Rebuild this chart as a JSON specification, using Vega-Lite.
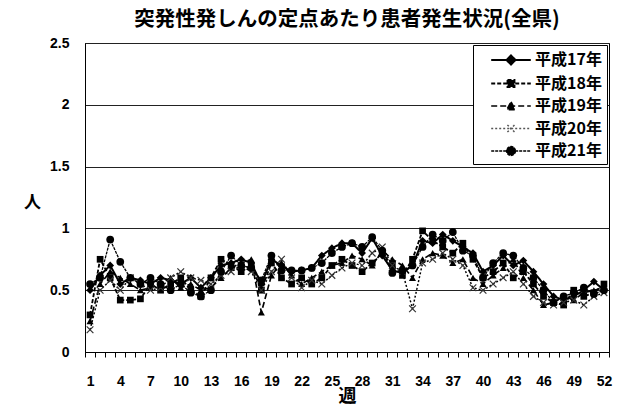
{
  "$schema": "https://vega.github.io/schema/vega-lite/v6.json",
  "width": 524,
  "height": 309,
  "autosize": {"type": "none"},
  "padding": {"left": 85, "top": 43, "right": 8, "bottom": 55},
  "background": "white",
  "title": {"text": "突発性発しんの定点あたり患者発生状況(全県)", "font": "Noto Sans CJK JP", "fontSize": 20.5, "fontWeight": "bold", "color": "black", "anchor": "middle", "offset": 6},
  "config": {
    "view": {"stroke": "black", "strokeWidth": 1},
    "axis": {"labelFont": "Liberation Sans", "labelFontWeight": "bold", "labelFontSize": 14, "labelColor": "black", "titleFont": "Noto Sans CJK JP", "titleFontWeight": "bold", "titleColor": "black", "domainColor": "black", "tickColor": "black"}
  },
  "data": {"values": [
    {"w":1,"s":"平成17年","v":0.5},{"w":2,"s":"平成17年","v":0.62},{"w":3,"s":"平成17年","v":0.7},{"w":4,"s":"平成17年","v":0.55},{"w":5,"s":"平成17年","v":0.6},{"w":6,"s":"平成17年","v":0.58},{"w":7,"s":"平成17年","v":0.55},{"w":8,"s":"平成17年","v":0.6},{"w":9,"s":"平成17年","v":0.58},{"w":10,"s":"平成17年","v":0.55},{"w":11,"s":"平成17年","v":0.6},{"w":12,"s":"平成17年","v":0.52},{"w":13,"s":"平成17年","v":0.6},{"w":14,"s":"平成17年","v":0.7},{"w":15,"s":"平成17年","v":0.72},{"w":16,"s":"平成17年","v":0.75},{"w":17,"s":"平成17年","v":0.72},{"w":18,"s":"平成17年","v":0.55},{"w":19,"s":"平成17年","v":0.75},{"w":20,"s":"平成17年","v":0.7},{"w":21,"s":"平成17年","v":0.65},{"w":22,"s":"平成17年","v":0.66},{"w":23,"s":"平成17年","v":0.68},{"w":24,"s":"平成17年","v":0.78},{"w":25,"s":"平成17年","v":0.84},{"w":26,"s":"平成17年","v":0.88},{"w":27,"s":"平成17年","v":0.88},{"w":28,"s":"平成17年","v":0.8},{"w":29,"s":"平成17年","v":0.92},{"w":30,"s":"平成17年","v":0.78},{"w":31,"s":"平成17年","v":0.66},{"w":32,"s":"平成17年","v":0.64},{"w":33,"s":"平成17年","v":0.7},{"w":34,"s":"平成17年","v":0.9},{"w":35,"s":"平成17年","v":0.88},{"w":36,"s":"平成17年","v":0.95},{"w":37,"s":"平成17年","v":0.9},{"w":38,"s":"平成17年","v":0.85},{"w":39,"s":"平成17年","v":0.8},{"w":40,"s":"平成17年","v":0.65},{"w":41,"s":"平成17年","v":0.7},{"w":42,"s":"平成17年","v":0.78},{"w":43,"s":"平成17年","v":0.7},{"w":44,"s":"平成17年","v":0.74},{"w":45,"s":"平成17年","v":0.65},{"w":46,"s":"平成17年","v":0.55},{"w":47,"s":"平成17年","v":0.45},{"w":48,"s":"平成17年","v":0.42},{"w":49,"s":"平成17年","v":0.45},{"w":50,"s":"平成17年","v":0.5},{"w":51,"s":"平成17年","v":0.57},{"w":52,"s":"平成17年","v":0.5},
    {"w":1,"s":"平成18年","v":0.3},{"w":2,"s":"平成18年","v":0.75},{"w":3,"s":"平成18年","v":0.6},{"w":4,"s":"平成18年","v":0.42},{"w":5,"s":"平成18年","v":0.42},{"w":6,"s":"平成18年","v":0.43},{"w":7,"s":"平成18年","v":0.55},{"w":8,"s":"平成18年","v":0.5},{"w":9,"s":"平成18年","v":0.55},{"w":10,"s":"平成18年","v":0.6},{"w":11,"s":"平成18年","v":0.5},{"w":12,"s":"平成18年","v":0.45},{"w":13,"s":"平成18年","v":0.6},{"w":14,"s":"平成18年","v":0.75},{"w":15,"s":"平成18年","v":0.7},{"w":16,"s":"平成18年","v":0.65},{"w":17,"s":"平成18年","v":0.7},{"w":18,"s":"平成18年","v":0.5},{"w":19,"s":"平成18年","v":0.72},{"w":20,"s":"平成18年","v":0.6},{"w":21,"s":"平成18年","v":0.55},{"w":22,"s":"平成18年","v":0.6},{"w":23,"s":"平成18年","v":0.55},{"w":24,"s":"平成18年","v":0.6},{"w":25,"s":"平成18年","v":0.7},{"w":26,"s":"平成18年","v":0.75},{"w":27,"s":"平成18年","v":0.7},{"w":28,"s":"平成18年","v":0.65},{"w":29,"s":"平成18年","v":0.72},{"w":30,"s":"平成18年","v":0.8},{"w":31,"s":"平成18年","v":0.7},{"w":32,"s":"平成18年","v":0.62},{"w":33,"s":"平成18年","v":0.75},{"w":34,"s":"平成18年","v":0.98},{"w":35,"s":"平成18年","v":0.9},{"w":36,"s":"平成18年","v":0.85},{"w":37,"s":"平成18年","v":0.8},{"w":38,"s":"平成18年","v":0.88},{"w":39,"s":"平成18年","v":0.75},{"w":40,"s":"平成18年","v":0.6},{"w":41,"s":"平成18年","v":0.65},{"w":42,"s":"平成18年","v":0.72},{"w":43,"s":"平成18年","v":0.6},{"w":44,"s":"平成18年","v":0.65},{"w":45,"s":"平成18年","v":0.55},{"w":46,"s":"平成18年","v":0.45},{"w":47,"s":"平成18年","v":0.4},{"w":48,"s":"平成18年","v":0.38},{"w":49,"s":"平成18年","v":0.5},{"w":50,"s":"平成18年","v":0.45},{"w":51,"s":"平成18年","v":0.48},{"w":52,"s":"平成18年","v":0.55},
    {"w":1,"s":"平成19年","v":0.25},{"w":2,"s":"平成19年","v":0.55},{"w":3,"s":"平成19年","v":0.65},{"w":4,"s":"平成19年","v":0.6},{"w":5,"s":"平成19年","v":0.55},{"w":6,"s":"平成19年","v":0.5},{"w":7,"s":"平成19年","v":0.52},{"w":8,"s":"平成19年","v":0.55},{"w":9,"s":"平成19年","v":0.6},{"w":10,"s":"平成19年","v":0.52},{"w":11,"s":"平成19年","v":0.55},{"w":12,"s":"平成19年","v":0.5},{"w":13,"s":"平成19年","v":0.52},{"w":14,"s":"平成19年","v":0.6},{"w":15,"s":"平成19年","v":0.68},{"w":16,"s":"平成19年","v":0.72},{"w":17,"s":"平成19年","v":0.75},{"w":18,"s":"平成19年","v":0.32},{"w":19,"s":"平成19年","v":0.62},{"w":20,"s":"平成19年","v":0.72},{"w":21,"s":"平成19年","v":0.62},{"w":22,"s":"平成19年","v":0.55},{"w":23,"s":"平成19年","v":0.6},{"w":24,"s":"平成19年","v":0.65},{"w":25,"s":"平成19年","v":0.7},{"w":26,"s":"平成19年","v":0.72},{"w":27,"s":"平成19年","v":0.78},{"w":28,"s":"平成19年","v":0.75},{"w":29,"s":"平成19年","v":0.7},{"w":30,"s":"平成19年","v":0.82},{"w":31,"s":"平成19年","v":0.75},{"w":32,"s":"平成19年","v":0.7},{"w":33,"s":"平成19年","v":0.6},{"w":34,"s":"平成19年","v":0.75},{"w":35,"s":"平成19年","v":0.8},{"w":36,"s":"平成19年","v":0.78},{"w":37,"s":"平成19年","v":0.72},{"w":38,"s":"平成19年","v":0.75},{"w":39,"s":"平成19年","v":0.6},{"w":40,"s":"平成19年","v":0.55},{"w":41,"s":"平成19年","v":0.62},{"w":42,"s":"平成19年","v":0.68},{"w":43,"s":"平成19年","v":0.75},{"w":44,"s":"平成19年","v":0.6},{"w":45,"s":"平成19年","v":0.5},{"w":46,"s":"平成19年","v":0.38},{"w":47,"s":"平成19年","v":0.4},{"w":48,"s":"平成19年","v":0.45},{"w":49,"s":"平成19年","v":0.42},{"w":50,"s":"平成19年","v":0.48},{"w":51,"s":"平成19年","v":0.5},{"w":52,"s":"平成19年","v":0.52},
    {"w":1,"s":"平成20年","v":0.18},{"w":2,"s":"平成20年","v":0.5},{"w":3,"s":"平成20年","v":0.58},{"w":4,"s":"平成20年","v":0.5},{"w":5,"s":"平成20年","v":0.6},{"w":6,"s":"平成20年","v":0.55},{"w":7,"s":"平成20年","v":0.5},{"w":8,"s":"平成20年","v":0.52},{"w":9,"s":"平成20年","v":0.6},{"w":10,"s":"平成20年","v":0.65},{"w":11,"s":"平成20年","v":0.6},{"w":12,"s":"平成20年","v":0.58},{"w":13,"s":"平成20年","v":0.55},{"w":14,"s":"平成20年","v":0.62},{"w":15,"s":"平成20年","v":0.65},{"w":16,"s":"平成20年","v":0.7},{"w":17,"s":"平成20年","v":0.65},{"w":18,"s":"平成20年","v":0.5},{"w":19,"s":"平成20年","v":0.65},{"w":20,"s":"平成20年","v":0.75},{"w":21,"s":"平成20年","v":0.6},{"w":22,"s":"平成20年","v":0.52},{"w":23,"s":"平成20年","v":0.58},{"w":24,"s":"平成20年","v":0.55},{"w":25,"s":"平成20年","v":0.62},{"w":26,"s":"平成20年","v":0.68},{"w":27,"s":"平成20年","v":0.72},{"w":28,"s":"平成20年","v":0.7},{"w":29,"s":"平成20年","v":0.8},{"w":30,"s":"平成20年","v":0.85},{"w":31,"s":"平成20年","v":0.7},{"w":32,"s":"平成20年","v":0.65},{"w":33,"s":"平成20年","v":0.35},{"w":34,"s":"平成20年","v":0.72},{"w":35,"s":"平成20年","v":0.75},{"w":36,"s":"平成20年","v":0.8},{"w":37,"s":"平成20年","v":0.75},{"w":38,"s":"平成20年","v":0.7},{"w":39,"s":"平成20年","v":0.52},{"w":40,"s":"平成20年","v":0.5},{"w":41,"s":"平成20年","v":0.55},{"w":42,"s":"平成20年","v":0.6},{"w":43,"s":"平成20年","v":0.65},{"w":44,"s":"平成20年","v":0.55},{"w":45,"s":"平成20年","v":0.45},{"w":46,"s":"平成20年","v":0.4},{"w":47,"s":"平成20年","v":0.38},{"w":48,"s":"平成20年","v":0.4},{"w":49,"s":"平成20年","v":0.42},{"w":50,"s":"平成20年","v":0.38},{"w":51,"s":"平成20年","v":0.45},{"w":52,"s":"平成20年","v":0.48},
    {"w":1,"s":"平成21年","v":0.55},{"w":2,"s":"平成21年","v":0.6},{"w":3,"s":"平成21年","v":0.91},{"w":4,"s":"平成21年","v":0.73},{"w":5,"s":"平成21年","v":0.6},{"w":6,"s":"平成21年","v":0.55},{"w":7,"s":"平成21年","v":0.6},{"w":8,"s":"平成21年","v":0.55},{"w":9,"s":"平成21年","v":0.5},{"w":10,"s":"平成21年","v":0.55},{"w":11,"s":"平成21年","v":0.48},{"w":12,"s":"平成21年","v":0.45},{"w":13,"s":"平成21年","v":0.5},{"w":14,"s":"平成21年","v":0.65},{"w":15,"s":"平成21年","v":0.78},{"w":16,"s":"平成21年","v":0.7},{"w":17,"s":"平成21年","v":0.68},{"w":18,"s":"平成21年","v":0.58},{"w":19,"s":"平成21年","v":0.78},{"w":20,"s":"平成21年","v":0.66},{"w":21,"s":"平成21年","v":0.66},{"w":22,"s":"平成21年","v":0.66},{"w":23,"s":"平成21年","v":0.68},{"w":24,"s":"平成21年","v":0.72},{"w":25,"s":"平成21年","v":0.8},{"w":26,"s":"平成21年","v":0.85},{"w":27,"s":"平成21年","v":0.88},{"w":28,"s":"平成21年","v":0.85},{"w":29,"s":"平成21年","v":0.93},{"w":30,"s":"平成21年","v":0.82},{"w":31,"s":"平成21年","v":0.64},{"w":32,"s":"平成21年","v":0.66},{"w":33,"s":"平成21年","v":0.7},{"w":34,"s":"平成21年","v":0.85},{"w":35,"s":"平成21年","v":0.95},{"w":36,"s":"平成21年","v":0.9},{"w":37,"s":"平成21年","v":0.97},{"w":38,"s":"平成21年","v":0.82},{"w":39,"s":"平成21年","v":0.78},{"w":40,"s":"平成21年","v":0.6},{"w":41,"s":"平成21年","v":0.72},{"w":42,"s":"平成21年","v":0.8},{"w":43,"s":"平成21年","v":0.78},{"w":44,"s":"平成21年","v":0.68},{"w":45,"s":"平成21年","v":0.6},{"w":46,"s":"平成21年","v":0.5},{"w":47,"s":"平成21年","v":0.4},{"w":48,"s":"平成21年","v":0.45},{"w":49,"s":"平成21年","v":0.48},{"w":50,"s":"平成21年","v":0.52},{"w":51,"s":"平成21年","v":0.47},{"w":52,"s":"平成21年","v":0.5}
  ]},
  "encoding": {
    "x": {"field": "w", "type": "ordinal", "scale": {"type": "band", "paddingInner": 0, "paddingOuter": 0},
      "axis": {"title": "週", "labelAngle": 0, "labelExpr": "(datum.value - 1) % 3 == 0 ? datum.label : ''", "ticks": true, "tickBand": "extent", "tickSize": 5, "tickWidth": 1, "labelPadding": 17, "titleFontSize": 18, "titleX": 262, "titleY": 44, "titleBaseline": "middle", "titleAlign": "center"}},
    "y": {"field": "v", "type": "quantitative", "scale": {"domain": [0, 2.5], "nice": false},
      "axis": {"title": "人", "values": [0, 0.5, 1, 1.5, 2, 2.5], "labelExpr": "'' + datum.value", "ticks": false, "labelPadding": 16, "grid": true, "gridColor": "#222", "gridOpacity": 1, "titleAngle": 0, "titleFontSize": 17, "titleX": -53, "titleY": 159, "titleAlign": "center", "titleBaseline": "middle"}}
  },
  "layer": [
    {
      "mark": {"type": "line", "color": "black"},
      "encoding": {
        "strokeDash": {"field": "s", "type": "nominal", "scale": {"domain": ["平成17年","平成18年","平成19年","平成20年","平成21年"], "range": [[1, 0], [4, 2], [6, 3], [2, 2], [3, 1]]},
          "legend": {"title": null, "orient": "top-right", "offset": 2, "direction": "vertical", "padding": 5, "rowPadding": 4.5, "strokeColor": "black", "fillColor": "white", "symbolSize": 324, "symbolOffset": 23, "labelOffset": 14, "labelFont": "Noto Sans CJK JP", "labelFontWeight": "bold", "labelFontSize": 16, "labelColor": "black", "labelBaseline": "middle", "symbolStrokeColor": "black",
            "encode": {"symbols": {"update": {
              "shape": {"signal": "datum.value === '平成17年' ? 'M-2.2,0H2.2M0,-0.5L0.5,0L0,0.5L-0.5,0Z' : datum.value === '平成18年' ? 'M-2.2,0H2.2M-0.39,-0.39H0.39V0.39H-0.39Z' : datum.value === '平成19年' ? 'M-2.2,0H2.2M0,-0.45L0.45,0.4H-0.45Z' : datum.value === '平成20年' ? 'M-2.2,0H2.2M-0.4,-0.4L0.4,0.4M-0.4,0.4L0.4,-0.4' : 'M-2.2,0H2.2M0.5,0A0.5,0.5 0 1,1 -0.5,0A0.5,0.5 0 1,1 0.5,0Z'"},
              "fill": {"value": "black"},
              "fillOpacity": {"value": 1},
              "stroke": {"signal": "datum.value === '平成20年' ? '#555' : 'black'"},
              "strokeWidth": {"signal": "datum.value === '平成17年' || datum.value === '平成21年' ? 2 : 1.3"}
            }}}}},
        "strokeWidth": {"field": "s", "type": "nominal", "scale": {"domain": ["平成17年","平成18年","平成19年","平成20年","平成21年"], "range": [2, 1.3, 1.3, 1.2, 2.2]}, "legend": null}
      }
    },
    {"transform": [{"filter": "datum.s === '平成17年'"}], "mark": {"type": "point", "filled": true, "size": 60, "opacity": 1, "color": "black", "shape": "diamond"}},
    {"transform": [{"filter": "datum.s === '平成18年'"}], "mark": {"type": "point", "filled": true, "size": 45, "opacity": 1, "color": "black", "shape": "square"}},
    {"transform": [{"filter": "datum.s === '平成19年'"}], "mark": {"type": "point", "filled": true, "size": 50, "opacity": 1, "color": "black", "shape": "triangle-up"}},
    {"transform": [{"filter": "datum.s === '平成20年'"}], "mark": {"type": "point", "filled": false, "size": 45, "opacity": 1, "color": "#333", "strokeWidth": 1.2, "shape": "M-1,-1L1,1M-1,1L1,-1"}},
    {"transform": [{"filter": "datum.s === '平成21年'"}], "mark": {"type": "point", "filled": true, "size": 60, "opacity": 1, "color": "black", "shape": "circle"}}
  ]
}
